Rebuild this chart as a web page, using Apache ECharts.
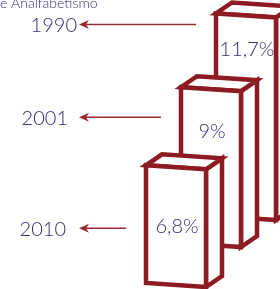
<!DOCTYPE html>
<html>
<head>
<meta charset="utf-8">
<script src="https://cdn.jsdelivr.net/npm/echarts@6/dist/echarts.min.js"></script>
<style>
html,body{margin:0;padding:0;background:#fff;}
#chart{width:280px;height:289px;}
</style>
</head>
<body>
<div id="chart"></div>
<script>
// ---- data ----
const years = ['1990', '2001', '2010'];
const rates = [11.7, 9, 6.8];
const rateLabels = ['11,7%', '9%', '6,8%'];
const titleText = 'Taxa de Analfabetismo';

// ---- styling / layout ----
const RED = '#8d1b21';
const TEXT = '#3a2a6c';
const FONT = 'Lato, "Open Sans", sans-serif';
const TITLE_FONT = '300 14px ' + FONT;

const chart = echarts.init(document.getElementById('chart'), null, {renderer: 'canvas'});

// per-box layout (px): vertical lift of box base, label offset, year label offsets
const LIFT = [67, 40, 0];
const LABEL_DY = [34, 42, 59];
const YEAR_DY = [11, 30, 63];
const YEAR_RIGHT = [77, 68, 66];
const HALF_W = 30, SKEW = 4, DX = 16, DY = -11;

// title is clipped at the left edge: shift so that the "e Analfabetismo" part starts at x=0
const mctx = document.createElement('canvas').getContext('2d');
mctx.font = TITLE_FONT;
const titleShift = mctx.measureText('Taxa d').width;

function renderBox(params, api) {
  const i = params.dataIndex;
  const cat = api.value(0);
  const val = api.value(1);
  const b = api.coord([cat, 0]);
  const t = api.coord([cat, val]);
  const cx = b[0];
  const lift = LIFT[i];
  const yt = t[1] - lift, yb = b[1] - lift;
  const FLt = [cx - HALF_W, yt], FRt = [cx + HALF_W, yt + SKEW];
  const FRb = [cx + HALF_W, yb + SKEW], FLb = [cx - HALF_W, yb];
  const add = p => [p[0] + DX, p[1] + DY];
  const st = {fill: '#fff', stroke: RED, lineWidth: 4.5, lineJoin: 'miter'};
  const arrowY = yt + YEAR_DY[i];
  const lineEnd = cx - HALF_W - 20;
  return {
    type: 'group',
    children: [
      {type: 'polygon', shape: {points: [FRt, add(FRt), add(FRb), FRb]}, style: st},
      {type: 'polygon', shape: {points: [FLt, FRt, add(FRt), add(FLt)]}, style: st},
      {type: 'polygon', shape: {points: [FLt, FRt, FRb, FLb]}, style: st},
      {type: 'text', style: {text: rateLabels[i], x: cx + 1, y: yt + LABEL_DY[i] + SKEW / 2,
        align: 'center', verticalAlign: 'middle', fill: TEXT, font: '300 20px ' + FONT}},
      {type: 'text', style: {text: years[i], x: YEAR_RIGHT[i], y: arrowY + 1,
        align: 'right', verticalAlign: 'middle', fill: TEXT, font: '300 20px ' + FONT}},
      {type: 'line', shape: {x1: 84, y1: arrowY, x2: lineEnd, y2: arrowY},
        style: {stroke: '#9a2a30', lineWidth: 1.6}},
      {type: 'polygon', shape: {points: [[79, arrowY], [89, arrowY - 4.5], [86, arrowY], [89, arrowY + 4.5]]},
        style: {fill: '#9a2a30', stroke: null}}
    ]
  };
}

chart.setOption({
  animation: false,
  grid: {left: 158.5, right: 16.5, top: 6, bottom: 6},
  xAxis: {type: 'category', data: years, inverse: true, show: false},
  yAxis: {type: 'value', min: 0, max: 16, show: false},
  graphic: [{
    type: 'text',
    style: {text: titleText, x: -titleShift, y: 3, align: 'left', verticalAlign: 'middle',
      fill: TEXT, font: TITLE_FONT}
  }],
  series: [{
    type: 'custom',
    renderItem: renderBox,
    clip: false,
    data: years.map((y, i) => [i, rates[i]])
  }]
});
</script>
</body>
</html>
